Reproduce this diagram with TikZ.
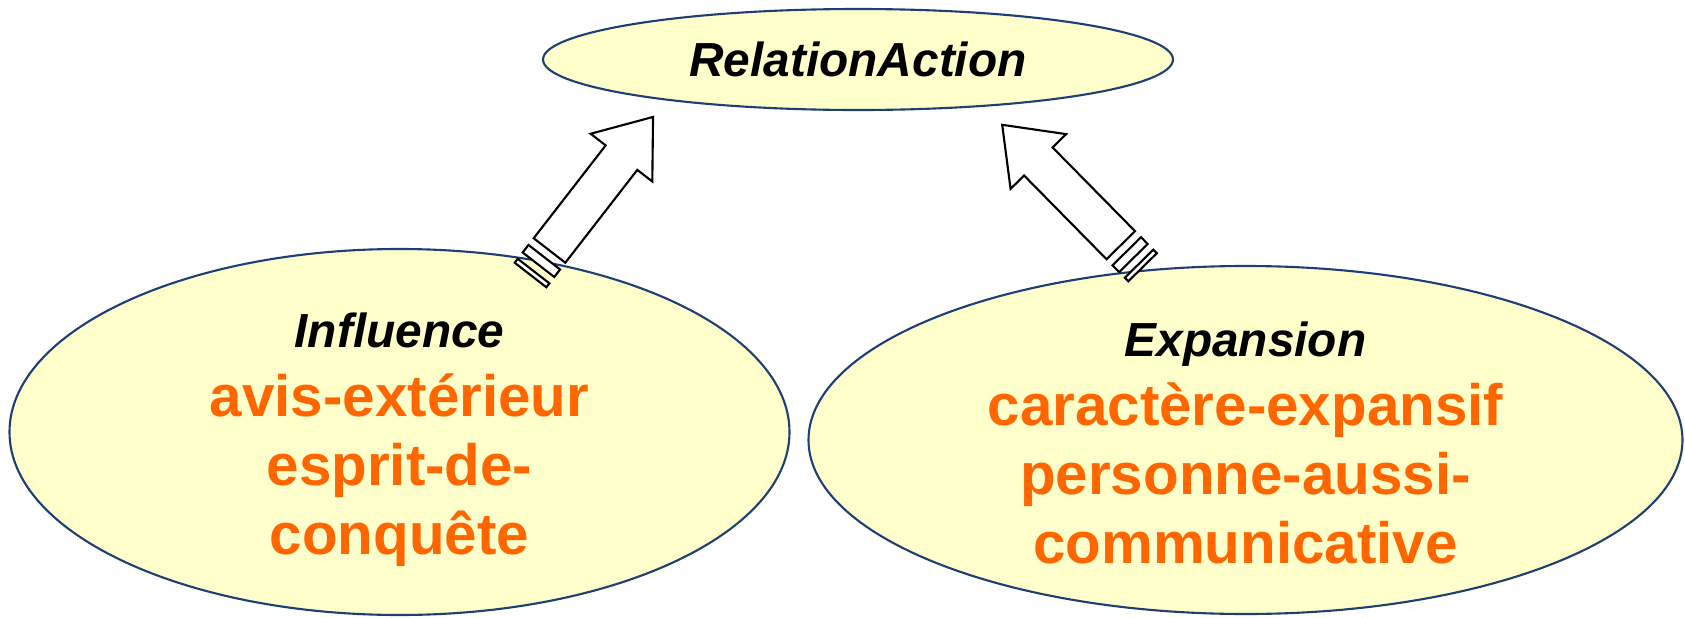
\documentclass[tikz,border=0pt]{standalone}
\usepackage{fontspec}
\setmainfont{Liberation Sans}
\usepackage{tikz}
\usetikzlibrary{shapes.geometric, positioning, calc}
\definecolor{clrYellowLight}{HTML}{FFFFCC}
\definecolor{clrNavy}{HTML}{1F3F74}
\definecolor{clrOrange}{HTML}{FF6600}
\tikzset{
  class oval/.style={ellipse, draw=clrNavy, fill=clrYellowLight, line width=0.6pt, inner sep=0pt},
  class name/.style={font=\fontsize{13.6}{16}\selectfont\bfseries\itshape, inner sep=0pt},
  attr name/.style={font=\fontsize{16.6}{20}\selectfont\bfseries, text=clrOrange, anchor=base, inner sep=0pt},
  striped arrow/.pic={
    \draw[line width=0.6pt, fill=white, line join=miter]
      (0,-0.20) -- (1.175,-0.20) -- (1.175,-0.39) -- (1.69,0) -- (1.175,0.39) -- (1.175,0.20) -- (0,0.20) -- cycle;
    \draw[line width=0.6pt, fill=white] (-0.18,-0.20) rectangle (-0.085,0.20);
    \draw[line width=0.6pt, fill=white] (-0.31,-0.20) rectangle (-0.26,0.20);
  },
}

\begin{document}
\begin{tikzpicture}
  \useasboundingbox (0,0) rectangle (16.85,6.17);

  % Classes
  \node[class oval, class name, minimum width=6.30cm, minimum height=1.01cm] (REL) at (8.58,5.575) {RelationAction};
  \node[class oval, minimum width=7.80cm, minimum height=3.66cm] (INFL) at (3.995,1.85) {};
  \node[class oval, minimum width=8.74cm, minimum height=3.48cm] (EXPN) at (12.455,1.77) {};

  % Influence
  \node[class name, anchor=base] (INFL-name) at ([yshift=0.85cm]INFL.center) {Influence};
  \node[attr name] (INFL-a) at ([yshift=-0.69cm]INFL-name.base) {avis-extérieur};
  \node[attr name] (INFL-b) at ([yshift=-0.69cm]INFL-a.base) {esprit-de-};
  \node[attr name] (INFL-c) at ([yshift=-0.69cm]INFL-b.base) {conquête};

  % Expansion
  \node[class name, anchor=base] (EXPN-name) at ([yshift=0.84cm]EXPN.center) {Expansion};
  \node[attr name] (EXPN-a) at ([yshift=-0.69cm]EXPN-name.base) {caractère-expansif};
  \node[attr name] (EXPN-b) at ([yshift=-0.69cm]EXPN-a.base) {personne-aussi-};
  \node[attr name] (EXPN-c) at ([yshift=-0.69cm]EXPN-b.base) {communicative};

  % Generalisation arrows
  \coordinate (INFL-out) at ($(INFL.center)+(1.50,1.815)$);
  \coordinate (REL-in1) at ($(REL.center)+(-2.05,-0.575)$);
  \coordinate (EXPN-out) at ($(EXPN.center)+(-1.247,1.948)$);
  \coordinate (REL-in2) at ($(REL.center)+(1.437,-0.648)$);
  \path (INFL-out) -- (REL-in1) pic[pos=0, sloped, allow upside down] {striped arrow};
  \path (EXPN-out) -- (REL-in2) pic[pos=0, sloped, allow upside down] {striped arrow};
\end{tikzpicture}
\end{document}
